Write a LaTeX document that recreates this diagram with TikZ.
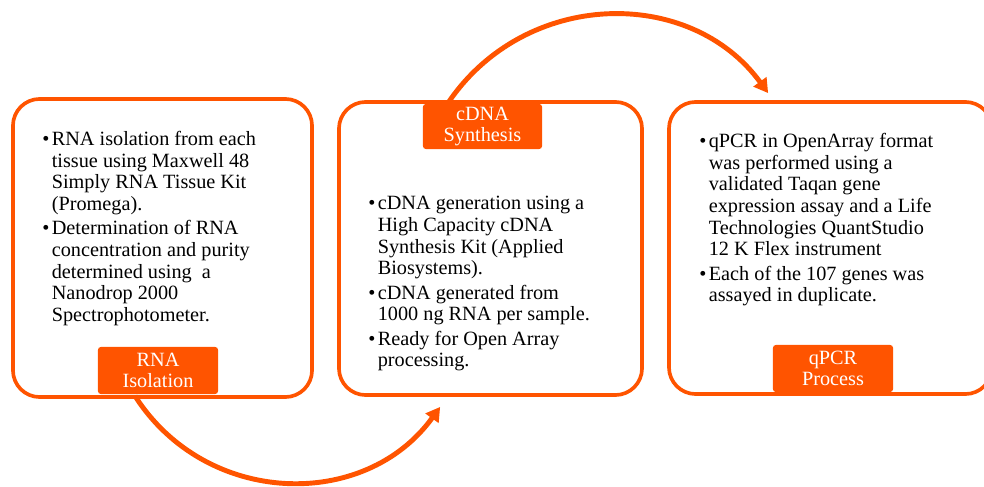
\documentclass[tikz,border=0pt]{standalone}
\usepackage{fontspec}
\setmainfont{Liberation Serif}
\usetikzlibrary{arrows.meta,positioning}
\definecolor{stepOrange}{RGB}{255,84,0}
\newcommand{\colorStep}{stepOrange}
\newcommand{\bul}{\makebox[6.8pt][l]{\textbullet}}
\newcommand{\ind}{\hspace*{6.8pt}}

\tikzset{
  stepbox/.style={draw=\colorStep, line width=2.6pt, rounded corners=19pt},
  steplabel/.style={fill=\colorStep, text=white, rounded corners=2pt, align=center,
    inner sep=0pt, font=\fontsize{14.4}{15.4}\selectfont},
  steptext/.style={align=left, inner sep=0pt, anchor=north west,
    font=\fontsize{14.4}{15.4}\selectfont},
  steparrow/.style={draw=\colorStep, line width=3.5pt, -{Triangle[length=10pt,width=11pt]}}
}

\begin{document}
\begin{tikzpicture}[x=0.025cm, y=-0.025cm]
  \useasboundingbox (0,0) rectangle (984,486);

  % the three step boxes
  \node[stepbox, minimum width=7.475cm, minimum height=7.45cm] (rnabox) at (162.5,248) {};
  \node[stepbox, minimum width=7.575cm, minimum height=7.325cm] (cdnabox) at (490.5,248.5) {};
  \node[stepbox, minimum width=8.075cm, minimum height=7.3cm] (qpcrbox) at (830.5,248) {};

  % curved arrows between the steps
  \coordinate (loopAstart) at (135,396);
  \coordinate (loopAend) at ([xshift=2.575cm, yshift=-0.25cm]cdnabox.south west);
  \draw[steparrow] (loopAstart) .. controls (206,507) and (365,511) .. (loopAend);

  \coordinate (loopBstart) at (448,103);
  \coordinate (loopBend) at ([xshift=2.525cm, yshift=0.175cm]qpcrbox.north west);
  \draw[steparrow] (loopBstart) .. controls (525,-11) and (690,-14) .. (loopBend);

  % labels
  \node[steplabel, minimum width=3cm, minimum height=1.175cm] (rnalabel) at (158,370.5) {RNA\\Isolation};
  \node[steplabel, minimum width=2.975cm, minimum height=1.125cm] (cdnalabel) at (482.5,126.5) {cDNA\\Synthesis};
  \node[steplabel, minimum width=3cm, minimum height=1.175cm] (qpcrlabel) at (833,368.5) {qPCR\\Process};

  % box texts
  \node[steptext] (rnatext) at (42,131) {%
    \bul RNA isolation from each\\
    \ind tissue using Maxwell 48\\
    \ind Simply RNA Tissue Kit\\
    \ind (Promega).\\[2pt]
    \bul Determination of RNA\\
    \ind concentration and purity\\
    \ind determined using~~a\\
    \ind Nanodrop 2000\\
    \ind Spectrophotometer.};

  \node[steptext] (cdnatext) at (368,196) {%
    \bul cDNA generation using a\\
    \ind High Capacity cDNA\\
    \ind Synthesis Kit (Applied\\
    \ind Biosystems).\\[2pt]
    \bul cDNA generated from\\
    \ind 1000 ng RNA per sample.\\[2pt]
    \bul Ready for Open Array\\
    \ind processing.};

  \node[steptext] (qpcrtext) at (699,133) {%
    \bul qPCR in OpenArray format\\
    \ind was performed using a\\
    \ind validated Taqan gene\\
    \ind expression assay and a Life\\
    \ind Technologies QuantStudio\\
    \ind 12 K Flex instrument\\[2pt]
    \bul Each of the 107 genes was\\
    \ind assayed in duplicate.};
\end{tikzpicture}
\end{document}
